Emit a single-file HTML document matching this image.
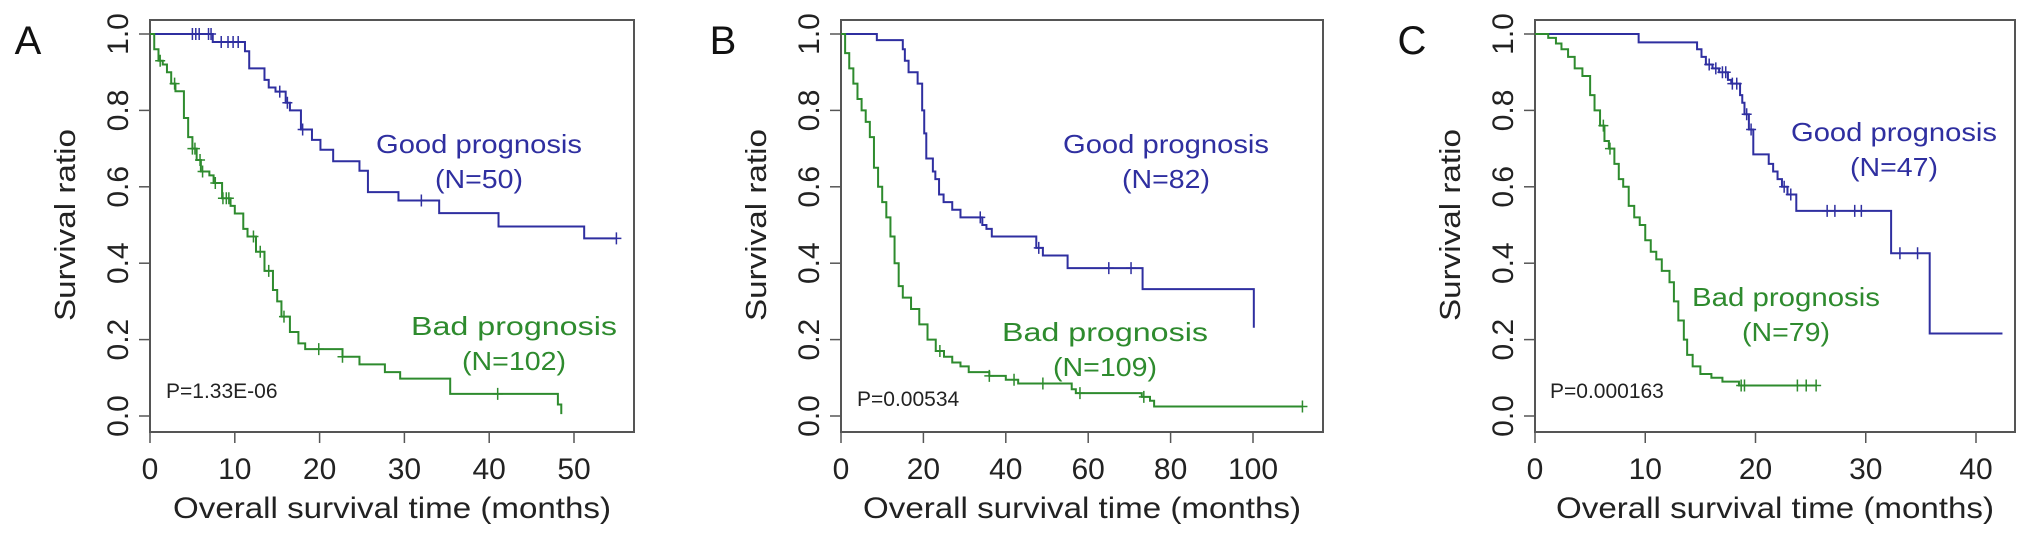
<!DOCTYPE html>
<html><head><meta charset="utf-8"><style>
html,body{margin:0;padding:0;background:#fff;}
svg{display:block;font-family:"Liberation Sans",Arial,sans-serif;}
</style></head><body>
<svg id="fig" width="2032" height="539" viewBox="0 0 2032 539" xmlns="http://www.w3.org/2000/svg"></svg>
<script>
// Panel A data
const aGoodT=[7.4,11.2,11.7,13.5,14,14.8,16,16.5,17.8,19.1,20.1,21.6,24.7,25.7,29.3,34.1,41.1,51.2];
const aGoodS=[0.979,0.955,0.91,0.88,0.86,0.849,0.82,0.80,0.75,0.723,0.697,0.667,0.642,0.586,0.564,0.531,0.496,0.465];
const aGoodEnd=55;
const aGoodCens=[5,5.4,5.8,6.9,7.2,8.4,9.2,9.8,10.4,15.3,16.2,18,32,55];
const aBadT=[0.5,1,1.5,2,2.5,3,4,4.5,5,5.5,6,7,7.5,8.5,9.5,10,11,11.5,12.5,13.5,14.5,15,15.5,16.5,17.5,18.3,22.7,24.7,27.7,29.5,35.4,48.1,48.5];
const aBadS=[0.96,0.93,0.92,0.9,0.87,0.85,0.78,0.73,0.70,0.67,0.64,0.63,0.61,0.57,0.55,0.53,0.49,0.47,0.43,0.38,0.33,0.30,0.26,0.22,0.19,0.175,0.155,0.135,0.115,0.098,0.058,0.03,0.005];
const aBadEnd=48.5;
const aBadCens=[1.2,2.9,5,5.3,5.9,6.2,7.7,8.6,9,9.3,12.2,13,14,15.8,19.9,22.7,41];
// Panel B data
const bGoodT=[8.7,15,15.5,16.4,18.6,19.7,20.2,20.7,22.3,22.9,23.8,24.9,27,29,34.3,35.3,36.6,47.4,49,55,73.2,100.2];
const bGoodS=[0.984,0.96,0.93,0.90,0.87,0.80,0.74,0.674,0.64,0.62,0.58,0.56,0.54,0.52,0.50,0.49,0.47,0.44,0.42,0.387,0.332,0.231];
const bGoodEnd=100.2;
const bGoodCens=[33.8,48,65,70.4];
const bBadT=[1,2,3,4,5,6,7,8,9,10,11,12,13,14,15,17,19,21,23,25,27,29,31,36,40,43,56,57,73,75,76];
const bBadS=[0.95,0.91,0.87,0.83,0.80,0.77,0.73,0.65,0.60,0.56,0.52,0.47,0.40,0.34,0.31,0.28,0.24,0.20,0.17,0.155,0.14,0.13,0.115,0.105,0.095,0.085,0.07,0.06,0.05,0.04,0.025];
const bBadEnd=112;
const bBadCens=[24,36,42,49,58,73.5,112];
// Panel C data
const cGoodT=[9.4,14.7,15.1,15.5,16.1,16.7,17.5,17.8,18.6,18.8,19,19.4,19.8,21.2,21.6,22,22.4,22.9,23.7,32.3,35.8];
const cGoodS=[0.978,0.96,0.94,0.92,0.91,0.90,0.88,0.87,0.84,0.82,0.79,0.75,0.685,0.66,0.64,0.62,0.60,0.58,0.537,0.426,0.216];
const cGoodEnd=42.4;
const cGoodCens=[15.8,16.4,17,17.3,17.9,18.3,19.2,19.6,22.6,23.2,26.5,27.2,29,29.6,33.1,34.7];
const cBadT=[1.2,1.9,2.4,3,3.6,4.3,5,5.4,5.9,6.3,6.7,7.2,7.6,8,8.5,9,9.5,10,10.5,11,11.5,12.2,12.6,13,13.5,13.8,14.3,15,16,17,18.5];
const cBadS=[0.99,0.975,0.96,0.94,0.91,0.89,0.84,0.80,0.76,0.72,0.70,0.66,0.62,0.60,0.55,0.52,0.50,0.46,0.43,0.41,0.38,0.35,0.30,0.25,0.20,0.16,0.13,0.11,0.10,0.09,0.08];
const cBadEnd=25.5;
const cBadCens=[6.2,6.8,18.7,19,23.8,24.6,25.5];

const yTicks=[0,0.2,0.4,0.6,0.8,1.0];
const yTickLabels=["0.0","0.2","0.4","0.6","0.8","1.0"];
const aXTicks=[0,10,20,30,40,50];
const bXTicks=[0,20,40,60,80,100];
const cXTicks=[0,10,20,30,40];

const NS="http://www.w3.org/2000/svg";
const svg=document.getElementById('fig');
const BLUE="#2f2fa0", GREEN="#2e8b2e";
function mk(tag,attrs,parent,text){
  const e=document.createElementNS(NS,tag);
  for(const k in attrs)e.setAttribute(k,attrs[k]);
  if(text!==undefined)e.textContent=text;
  (parent||svg).appendChild(e);return e;
}
function survAt(T,S,t){let s=1;for(let i=0;i<T.length;i++){if(T[i]<=t)s=S[i];}return s;}
function panel(p){
  const g=mk('g',{});
  
  
  const X=t=>p.x0+(t)*(p.x1-p.x0)/p.xmax;
  const Y=v=>416-(v)*382;
  const box=mk('rect',{x:p.bl,y:20,width:p.br-p.bl,height:412,fill:'none',stroke:'#555','stroke-width':2},g);
  
  
  yTicks.forEach((v,i)=>{
    const tk=mk('line',{x1:p.bl-11,x2:p.bl,y1:Y(v),y2:Y(v),stroke:'#555','stroke-width':1.5},g);
    
    
    const lb=mk('text',{x:0,y:0,transform:`translate(${p.bl-22},${Y(v)}) rotate(-90)`,'text-anchor':'middle','font-size':30,fill:'#222'},g,yTickLabels[i]);
    
    
  });
  p.xt.forEach(v=>{
    const tk=mk('line',{x1:X(v),x2:X(v),y1:432,y2:443,stroke:'#555','stroke-width':1.5},g);
    
    
    const lb=mk('text',{x:X(v),y:479,'text-anchor':'middle','font-size':30,fill:'#222'},g,String(v));
    
    
  });
  const xt=mk('text',{x:(p.bl+p.br)/2,y:518,'text-anchor':'middle','font-size':30,fill:'#222',textLength:438,lengthAdjust:'spacingAndGlyphs'},g,'Overall survival time (months)');
  
  
  const yt=mk('text',{x:0,y:0,transform:`translate(${p.bl-75},225) rotate(-90)`,'text-anchor':'middle','font-size':29,fill:'#222',textLength:192,lengthAdjust:'spacingAndGlyphs'},g,'Survival ratio');
  
  
  const L=mk('text',{x:p.lx,y:54,'text-anchor':'middle','font-size':40,fill:'#111'},g,p.id);
  
  
  [['good',p.gT,p.gS,p.gE,p.gC,BLUE],['bad',p.bT,p.bS,p.bE,p.bC,GREEN]].forEach(([nm,T,S,E,C,col])=>{
    let d=`M${X(0)},${Y(1)}`;let s=1;
    for(let i=0;i<T.length;i++){d+=` H${X(T[i])} V${Y(S[i])}`;s=S[i];}
    if(E>T[T.length-1])d+=` H${X(E)}`;
    const path=mk('path',{d:d,fill:'none',stroke:col,'stroke-width':2},g);
    
    
    C.forEach(t=>{
      const v=survAt(T,S,t);
      const c=mk('path',{d:`M${X(t)},${Y(v)-6} V${Y(v)+6} M${X(t)-5},${Y(v)} H${X(t)+5}`,stroke:col,'stroke-width':1.5,fill:'none'},g);
      
      
    });
  });
  p.labels.forEach(([txt,x,y,col,w,nm])=>{
    const t=mk('text',{x:x,y:y,'text-anchor':'middle','font-size':26,fill:col,textLength:w,lengthAdjust:'spacingAndGlyphs'},g,txt);
    
    
  });
  const pv=mk('text',{x:p.px,y:p.py,'font-size':21,fill:'#222'},g,p.pt);
  
  
}
panel({id:'A',bl:150,br:634,x0:150,x1:574,xmax:50,xt:aXTicks,lx:28,
  gT:aGoodT,gS:aGoodS,gE:aGoodEnd,gC:aGoodCens,bT:aBadT,bS:aBadS,bE:aBadEnd,bC:aBadCens,
  labels:[['Good prognosis',479,153,BLUE,206,'good-label'],['(N=50)',479,188,BLUE,88,'good-n'],['Bad prognosis',514,335,GREEN,206,'bad-label'],['(N=102)',514,370,GREEN,104,'bad-n']],
  px:166,py:398,pt:'P=1.33E-06'});
panel({id:'B',bl:841,br:1323,x0:841,x1:1253,xmax:100,xt:bXTicks,lx:723,
  gT:bGoodT,gS:bGoodS,gE:bGoodEnd,gC:bGoodCens,bT:bBadT,bS:bBadS,bE:bBadEnd,bC:bBadCens,
  labels:[['Good prognosis',1166,153,BLUE,206,'good-label'],['(N=82)',1166,188,BLUE,88,'good-n'],['Bad prognosis',1105,341,GREEN,206,'bad-label'],['(N=109)',1105,376,GREEN,104,'bad-n']],
  px:857,py:406,pt:'P=0.00534'});
panel({id:'C',bl:1535,br:2015,x0:1535,x1:1976,xmax:40,xt:cXTicks,lx:1412,
  gT:cGoodT,gS:cGoodS,gE:cGoodEnd,gC:cGoodCens,bT:cBadT,bS:cBadS,bE:cBadEnd,bC:cBadCens,
  labels:[['Good prognosis',1894,141,BLUE,206,'good-label'],['(N=47)',1894,176,BLUE,88,'good-n'],['Bad prognosis',1786,306,GREEN,188,'bad-label'],['(N=79)',1786,341,GREEN,88,'bad-n']],
  px:1550,py:398,pt:'P=0.000163'});
</script>
</body></html>
